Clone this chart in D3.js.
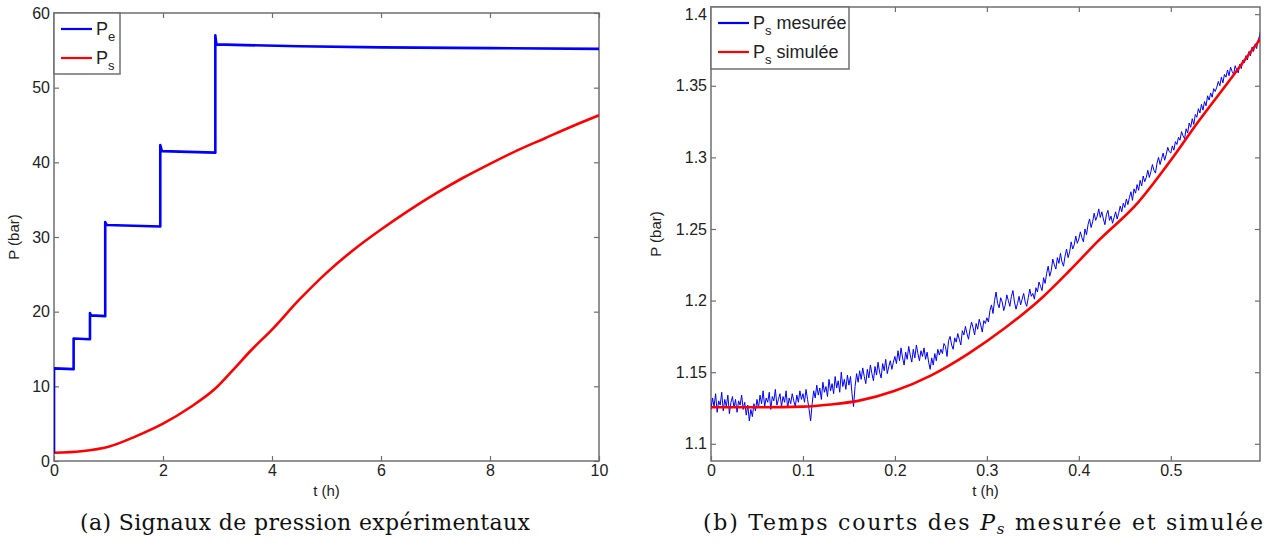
<!DOCTYPE html>
<html>
<head>
<meta charset="utf-8">
<script src="https://cdn.jsdelivr.net/npm/d3@7"></script>
<style>
  body { margin: 0; background: #fff; }
  svg { display: block; }
  .tick text { font-family: "Liberation Sans", Arial, sans-serif; font-size: 16px; fill: #222; }
  .tick line { stroke: #6f6f6f; stroke-width: 1.2; }
  .axis-label { font-family: "Liberation Sans", Arial, sans-serif; font-size: 15px; fill: #222; }
  .legend-text { font-family: "Liberation Sans", Arial, sans-serif; font-size: 18px; fill: #222; }
  .caption { font-family: "DejaVu Serif", serif; font-size: 22px; fill: #111; }
</style>
</head>
<body>
<div class="chart"></div>
<script>
// (a) pressure signals, step input Pe and output Ps
const peTime  = [0, 0, 0.36, 0.36, 0.66, 0.66, 0.68, 0.94, 0.94, 0.97, 1.95, 1.95, 1.98, 2.96, 2.96, 2.98, 3.5, 4.5, 6, 8, 10]
const peValue = [1.1, 12.4, 12.3, 16.4, 16.3, 19.8, 19.5, 19.4, 32.0, 31.6, 31.4, 42.3, 41.5, 41.3, 57.0, 55.8, 55.7, 55.55, 55.4, 55.3, 55.2]

const psTime  = [0, 0.5, 1.0, 1.5, 2.0, 2.5, 2.96, 3.3, 3.6, 4.0, 4.5, 5, 5.5, 6, 6.5, 7, 7.5, 8, 8.5, 9, 9.5, 10]
const psValue = [1.1, 1.3, 1.9, 3.3, 5.0, 7.2, 9.7, 12.3, 14.7, 17.6, 21.6, 25.2, 28.3, 31.0, 33.5, 35.8, 37.9, 39.8, 41.6, 43.2, 44.8, 46.3]

// (b) short times, measured (sampled every 1/600 h) and simulated Ps
const sampleStep = 1 / 600
const psMesuree = [
  1.124, 1.132, 1.126, 1.135, 1.122, 1.130, 1.127, 1.136, 1.123, 1.131, 1.126, 1.134, 1.121, 1.129, 1.133, 1.125, 1.131, 1.122, 1.130, 1.127, 1.134, 1.124, 1.129, 1.120, 1.127, 1.116, 1.124, 1.119, 1.128, 1.123,
  1.131, 1.125, 1.134, 1.128, 1.137, 1.126, 1.132, 1.129, 1.136, 1.124, 1.133, 1.130, 1.138, 1.127, 1.131, 1.135, 1.126, 1.133, 1.129, 1.137, 1.125, 1.132, 1.128, 1.135, 1.130, 1.126, 1.134, 1.129, 1.137, 1.131,
  1.135, 1.129, 1.138, 1.131, 1.124, 1.116, 1.128, 1.137, 1.132, 1.141, 1.134, 1.139, 1.131, 1.143, 1.136, 1.140, 1.133, 1.145, 1.137, 1.142, 1.135, 1.147, 1.139, 1.144, 1.136, 1.150, 1.140, 1.145, 1.138, 1.148,
  1.141, 1.147, 1.135, 1.126, 1.140, 1.149, 1.143, 1.151, 1.145, 1.153, 1.147, 1.142, 1.152, 1.146, 1.155, 1.149, 1.144, 1.154, 1.148, 1.157, 1.150, 1.146, 1.156, 1.151, 1.159, 1.149, 1.154, 1.158, 1.152, 1.157,
  1.161, 1.156, 1.165, 1.158, 1.167, 1.160, 1.155, 1.164, 1.159, 1.168, 1.162, 1.157, 1.166, 1.160, 1.169, 1.163, 1.158, 1.165, 1.161, 1.167, 1.159, 1.164, 1.157, 1.152, 1.160, 1.155, 1.163, 1.158, 1.166, 1.162,
  1.166, 1.163, 1.170, 1.168, 1.161, 1.172, 1.175, 1.169, 1.166, 1.174, 1.171, 1.177, 1.173, 1.169, 1.179, 1.176, 1.182, 1.177, 1.173, 1.180, 1.185, 1.181, 1.176, 1.184, 1.180, 1.187, 1.183, 1.178, 1.186, 1.184,
  1.188, 1.185, 1.193, 1.197, 1.191, 1.200, 1.206, 1.198, 1.195, 1.202, 1.199, 1.193, 1.197, 1.204, 1.200, 1.196, 1.203, 1.207, 1.199, 1.194, 1.198, 1.203, 1.197, 1.201, 1.205, 1.199, 1.196, 1.202, 1.208, 1.203,
  1.205, 1.201, 1.209, 1.206, 1.213, 1.210, 1.207, 1.216, 1.212, 1.219, 1.224, 1.217, 1.221, 1.229, 1.225, 1.222, 1.230, 1.226, 1.233, 1.227, 1.224, 1.231, 1.236, 1.230, 1.234, 1.241, 1.236, 1.239, 1.245, 1.240,
  1.243, 1.248, 1.244, 1.241, 1.250, 1.246, 1.253, 1.257, 1.251, 1.255, 1.261, 1.256, 1.259, 1.264, 1.258, 1.262, 1.257, 1.253, 1.260, 1.263, 1.256, 1.259, 1.254, 1.258, 1.262, 1.257, 1.261, 1.266, 1.262, 1.268,
  1.265, 1.271, 1.267, 1.272, 1.276, 1.270, 1.278, 1.275, 1.281, 1.277, 1.284, 1.280, 1.287, 1.283, 1.286, 1.291, 1.286, 1.290, 1.295, 1.291, 1.289, 1.296, 1.300, 1.295, 1.299, 1.303, 1.298, 1.302, 1.307, 1.304,
  1.303, 1.308, 1.305, 1.311, 1.309, 1.314, 1.312, 1.318, 1.315, 1.313, 1.320, 1.317, 1.324, 1.321, 1.327, 1.323, 1.330, 1.328, 1.334, 1.331, 1.337, 1.333, 1.339, 1.336, 1.343, 1.340, 1.345, 1.342, 1.348, 1.346,
  1.349, 1.353, 1.350, 1.356, 1.352, 1.358, 1.356, 1.361, 1.357, 1.363, 1.360, 1.358, 1.364, 1.361, 1.359, 1.365, 1.362, 1.368, 1.366, 1.371, 1.368, 1.374, 1.371, 1.377, 1.374, 1.379, 1.376, 1.382, 1.385, 1.391
]

const simTime  = [0, 0.05, 0.1, 0.13, 0.16, 0.2, 0.24, 0.28, 0.32, 0.36, 0.39, 0.42, 0.465, 0.5, 0.53, 0.563, 0.6]
const simValue = [1.1255, 1.1255, 1.126, 1.1275, 1.130, 1.137, 1.148, 1.163, 1.181, 1.202, 1.221, 1.241, 1.269, 1.298, 1.325, 1.353, 1.385]

const ticksA_x = [0, 2, 4, 6, 8, 10]
const ticksA_y = [0, 10, 20, 30, 40, 50, 60]
const ticksB_x = [0, 0.1, 0.2, 0.3, 0.4, 0.5]
const ticksB_y = [1.1, 1.15, 1.2, 1.25, 1.3, 1.35, 1.4]

const W = 1270, H = 546
const svg = d3.select(".chart").append("svg")
  .attr("width", W)
  .attr("height", H)

function panel(id, box, xDomain, yDomain, xTicks, yTicks, fmt){
  const x = d3.scaleLinear().domain(xDomain).range([box.x0, box.x1])
  const y = d3.scaleLinear().domain(yDomain).range([box.y1, box.y0])

  svg.append("clipPath").attr("id", id)
    .append("rect")
    .attr("x", box.x0).attr("y", box.y0)
    .attr("width", box.x1 - box.x0).attr("height", box.y1 - box.y0)

  svg.append("g")
    .attr("transform", `translate(0,${box.y1})`)
    .call(d3.axisBottom(x).tickValues(xTicks).tickSize(-5).tickPadding(4).tickFormat(fmt))
    .call(g => g.select(".domain").remove())
  svg.append("g")
    .attr("transform", `translate(0,${box.y0})`)
    .call(d3.axisTop(x).tickValues(xTicks).tickSize(-5).tickFormat(""))
    .call(g => g.select(".domain").remove())
  svg.append("g")
    .attr("transform", `translate(${box.x0},0)`)
    .call(d3.axisLeft(y).tickValues(yTicks).tickSize(-5).tickPadding(4).tickFormat(fmt))
    .call(g => g.select(".domain").remove())
  svg.append("g")
    .attr("transform", `translate(${box.x1},0)`)
    .call(d3.axisRight(y).tickValues(yTicks).tickSize(-5).tickFormat(""))
    .call(g => g.select(".domain").remove())

  svg.append("rect")
    .attr("x", box.x0).attr("y", box.y0)
    .attr("width", box.x1 - box.x0).attr("height", box.y1 - box.y0)
    .attr("fill", "none")
    .attr("stroke", "#6f6f6f")
    .attr("stroke-width", 1.5)

  svg.append("text")
    .attr("class", "axis-label")
    .attr("x", (box.x0 + box.x1) / 2)
    .attr("y", box.y1 + 35)
    .style("text-anchor", "middle")
    .text("t (h)")

  svg.append("text")
    .attr("class", "axis-label")
    .attr("transform", `translate(${box.ylabelX},${(box.y0 + box.y1) / 2}) rotate(-90)`)
    .style("text-anchor", "middle")
    .text("P (bar)")

  return {x, y}
}

function drawLine(sc, id, xs, ys, color, width, curve){
  const line = d3.line().x(d => sc.x(d[0])).y(d => sc.y(d[1])).curve(curve || d3.curveLinear)
  svg.append("path")
    .datum(xs.map((t, i) => [t, ys[i]]))
    .attr("clip-path", `url(#${id})`)
    .attr("fill", "none")
    .attr("stroke", color)
    .attr("stroke-width", width)
    .attr("stroke-linejoin", "round")
    .attr("d", line)
}

function legend(box, entries){
  svg.append("rect")
    .attr("x", box.x).attr("y", box.y)
    .attr("width", box.w).attr("height", box.h)
    .attr("fill", "#fff")
    .attr("stroke", "#6f6f6f")
    .attr("stroke-width", 1.5)
  entries.forEach((e, i) => {
    const cy = box.y + 16 + i * 29
    svg.append("line")
      .attr("x1", box.x + 7).attr("x2", box.x + 38)
      .attr("y1", cy).attr("y2", cy)
      .attr("stroke", e.color).attr("stroke-width", 2.2)
    const t = svg.append("text")
      .attr("class", "legend-text")
      .attr("x", box.x + 42)
      .attr("y", cy + 6)
    t.append("tspan").text("P")
    t.append("tspan").attr("dy", 6).style("font-size", "13px").text(e.sub)
    if (e.rest) t.append("tspan").attr("dy", -6).text(" " + e.rest)
  })
}

const fmtA = d => String(d)
const fmtB = d => String(+d.toFixed(2))

const a = panel("clipA", {x0: 54, x1: 599, y0: 13, y1: 461, ylabelX: 19}, [0, 10], [0, 60], ticksA_x, ticksA_y, fmtA)
drawLine(a, "clipA", psTime, psValue, "#ff0000", 2.6, d3.curveMonotoneX)
drawLine(a, "clipA", peTime, peValue, "#0000ff", 2.6)
legend({x: 54, y: 13, w: 66, h: 61}, [
  {color: "#0000ff", sub: "e"},
  {color: "#ff0000", sub: "s"}
])

const b = panel("clipB", {x0: 711, x1: 1260, y0: 7, y1: 461, ylabelX: 661}, [0, 0.597], [1.088, 1.405], ticksB_x, ticksB_y, fmtB)
const mesTime = psMesuree.map((v, i) => i * sampleStep)
drawLine(b, "clipB", mesTime, psMesuree, "#0000ff", 1.0)
drawLine(b, "clipB", simTime, simValue, "#ff0000", 2.6, d3.curveMonotoneX)
legend({x: 711, y: 7, w: 138, h: 62}, [
  {color: "#0000ff", sub: "s", rest: "mesurée"},
  {color: "#ff0000", sub: "s", rest: "simulée"}
])

// captions, fitted to the width they take in the figure
function caption(cx, width, parts){
  const t = svg.append("text")
    .attr("class", "caption")
    .attr("x", cx)
    .attr("y", 530)
    .style("text-anchor", "middle")
  parts.forEach(p => {
    const s = t.append("tspan").text(p.text)
    if (p.italic) s.style("font-style", "italic")
    if (p.dy) s.attr("dy", p.dy)
    if (p.size) s.style("font-size", p.size)
  })
  t.attr("textLength", width).attr("lengthAdjust", "spacing")
}
caption(305, 450, [{text: "(a) Signaux de pression expérimentaux"}])
caption(983, 560, [
  {text: "(b) Temps courts des "},
  {text: "P", italic: true},
  {text: "s", italic: true, dy: 4, size: "15px"},
  {text: " mesurée et simulée", dy: -4}
])
</script>
</body>
</html>
